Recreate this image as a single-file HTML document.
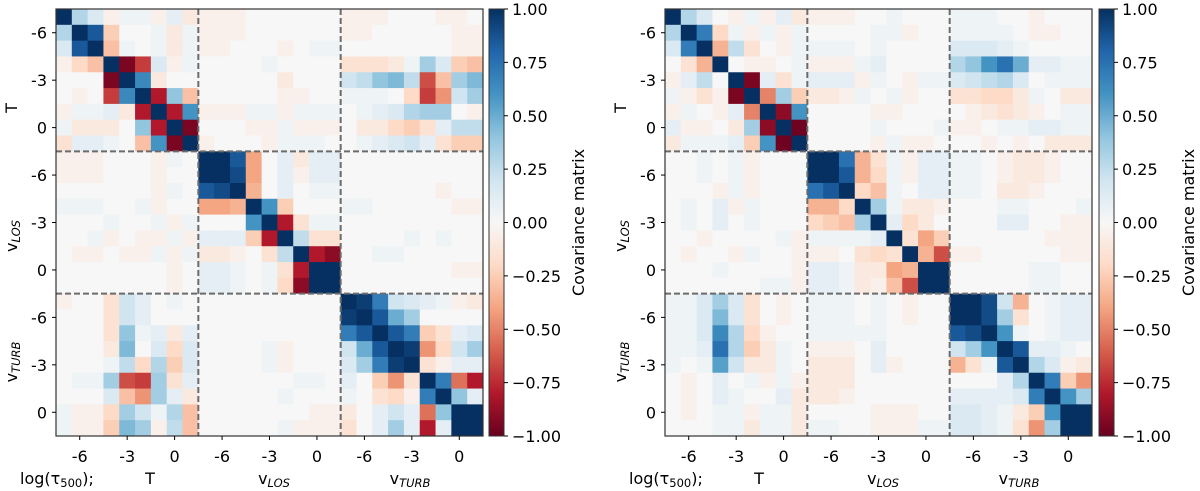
<!DOCTYPE html>
<html><head><meta charset="utf-8">
<style>
html,body{margin:0;padding:0;background:#fff;}
svg{display:block;font-family:"DejaVu Sans","Liberation Sans",sans-serif;}
</style></head>
<body>
<svg id="fig" width="1200" height="491" viewBox="0 0 1200 491" xmlns="http://www.w3.org/2000/svg"></svg>
<script>
// ---- data ----
const tickValues = [-6, -3, 0];
const tickCells = [1, 4, 7];
const blockNames = ["T", "LOS", "TURB"];
const cbarTicks = [1, 0.75, 0.5, 0.25, 0, -0.25, -0.5, -0.75, -1];
const cbarLabels = ["1.00","0.75","0.50","0.25","0.00","\u22120.25","\u22120.50","\u22120.75","\u22121.00"];

const leftMatrix = [
[1,.3,.15,-.05,.05,.05,-.05,.1,-.1, -.05,-.05,-.05,0,0,0,0,0,0, -.05,-.05,-.05,0,0,0,-.05,-.05,0],
[.3,1,.85,-.25,0,0,.05,-.1,.05, -.05,-.05,-.05,0,0,0,0,0,0, -.05,-.05,0,0,0,0,0,-.05,-.05],
[.15,.85,1,-.3,.05,0,.05,-.1,.05, -.05,-.05,0,0,0,-.05,0,.05,.05, 0,0,0,0,0,0,0,-.05,-.05],
[-.05,-.2,-.3,1,-.95,-.7,.15,-.05,.05, 0,0,0,0,.05,0,0,0,0, -.15,-.15,-.15,-.1,.05,.35,.15,-.25,-.3],
[0,0,0,-.95,1,.65,-.1,0,0, 0,0,0,0,0,-.1,0,0,0, .2,.25,.4,.45,.25,-.65,-.3,.35,.45],
[0,-.05,0,-.7,.65,1,-.8,.4,-.3, 0,0,0,0,0,-.05,-.05,0,0, .05,.05,.05,0,-.2,-.7,-.45,.2,.35],
[-.05,.05,.05,.1,-.1,-.8,1,-.8,.6, -.05,-.05,-.05,.05,.05,-.05,.05,.05,.05, 0,.05,.1,.15,.3,.35,.35,0,-.05],
[.05,-.1,-.1,-.1,0,.4,-.8,1,-.95, 0,0,0,-.05,-.05,.05,-.05,-.05,-.05, 0,-.1,-.1,-.2,-.25,-.15,.1,.25,.25],
[-.15,.1,.1,.05,0,-.3,.6,-.95,1, -.05,0,0,0,-.05,.05,.05,.05,0, 0,.05,.1,.15,.2,.1,-.15,-.25,-.25],
[-.05,-.05,-.05,0,0,0,-.05,.05,0, 1,1,.85,-.4,0,.1,-.1,.1,.1, 0,0,0,0,0,0,0,0,0],
[-.05,-.05,-.05,0,0,0,-.05,0,0, 1,1,.9,-.4,0,.1,-.05,.1,.1, 0,0,0,0,0,0,0,0,0],
[0,0,0,0,0,0,-.05,.05,0, .85,.9,1,-.35,0,.1,0,.05,.05, 0,0,0,0,0,0,-.05,0,0],
[.05,.05,.05,0,0,.05,-.05,0,0, -.4,-.4,-.35,1,.6,-.25,0,0,0, .05,.05,0,0,0,0,0,-.05,-.05],
[0,0,0,.05,0,0,.05,-.05,.05, 0,0,0,.6,1,-.8,-.15,.05,.05, 0,0,0,0,0,0,0,0,0],
[0,0,.05,-.05,0,-.05,-.05,.05,-.05, .1,.1,.1,-.25,-.8,1,.25,-.15,-.15, 0,0,0,0,.05,0,.05,0,0],
[0,-.05,-.05,0,-.05,-.05,.05,-.05,.05, -.1,-.1,-.05,0,-.15,.25,1,-.8,-.9, 0,0,.05,.05,0,0,0,0,0],
[0,0,0,0,0,0,0,-.05,0, .1,.1,.05,0,.05,-.15,-.8,1,1, 0,0,0,0,0,0,0,-.05,-.05],
[0,0,0,0,0,0,0,-.05,0, .1,.1,.05,0,.05,-.2,-.9,1,1, 0,0,0,0,0,0,0,0,0],
[-.05,0,0,-.15,.2,.1,0,.05,0, 0,0,0,0,0,0,0,0,0, 1,.95,.7,.2,.15,.1,.05,-.05,-.1],
[0,0,0,-.15,.2,.1,0,0,0, 0,0,0,0,0,0,0,0,0, .95,1,.85,.5,.35,0,0,0,0],
[0,0,0,-.15,.4,.05,.1,-.1,.1, 0,0,0,0,0,0,0,0,0, .7,.85,1,.85,.7,-.25,-.15,.1,.15],
[0,0,0,-.1,.45,0,.15,-.2,.15, 0,0,0,0,.05,-.05,0,0,0, .2,.5,.85,1,.95,-.45,-.2,.2,.35],
[0,0,0,.05,.25,-.2,.3,-.25,.15, 0,0,0,0,.05,-.05,0,0,0, .15,.35,.7,.95,1,-.15,-.05,.1,.1],
[0,.05,.05,.35,-.65,-.7,.35,-.15,.1, 0,0,0,0,0,0,.05,.05,0, .1,0,-.25,-.45,-.15,1,.7,-.55,-.8],
[0,0,0,.15,-.3,-.45,.35,.1,-.1, 0,0,0,0,0,.05,0,0,0, .05,0,-.15,-.2,-.05,.7,1,.4,.1],
[.05,-.05,-.05,-.2,.35,.2,.05,.3,-.3, 0,0,0,0,0,0,0,-.05,-.05, -.1,0,.1,.2,.1,-.55,.4,1,1],
[.05,-.05,-.05,-.25,.45,.35,-.05,.25,-.3, 0,0,0,0,0,.05,-.05,-.05,-.05, -.15,0,.1,.35,.1,-.8,.1,1,1]
];

const rightMatrix = [
[1,.3,.15,0,-.05,.05,-.05,.1,-.1, -.05,-.05,-.05,0,0,.05,0,0,0, .05,.05,.05,0,0,-.05,0,0,0],
[.3,1,.7,-.2,.05,-.05,.05,-.05,.05, 0,0,0,0,.05,.05,-.05,0,0, .05,.05,.05,.05,0,-.05,-.05,0,0],
[.15,.7,1,-.35,.25,-.15,0,-.05,.05, .05,.05,.05,0,.05,0,0,0,0, .15,.15,.15,.1,.05,0,0,0,0],
[0,-.15,-.35,1,0,-.05,-.05,0,.05, -.05,-.05,-.05,.05,.1,0,0,0,0, .3,.4,.6,.75,.5,.1,.1,.05,.05],
[-.05,.1,.25,0,1,-.95,.1,-.15,.05, .1,.1,.1,-.05,.05,0,-.05,.05,.05, .15,.2,.25,.3,.15,0,.05,.05,.05],
[.05,-.05,-.15,-.05,-.95,1,-.5,.35,-.25, -.1,-.1,-.05,.05,0,.05,-.05,0,0, -.15,-.15,-.2,-.2,-.1,.05,0,-.1,-.1],
[-.05,.05,0,-.05,.1,-.5,1,-.9,.6, 0,0,0,0,-.05,-.05,0,0,0, 0,-.05,-.1,-.15,-.1,-.05,0,.05,.05],
[.1,-.05,-.05,0,-.1,.35,-.9,1,-.98, 0,0,0,0,.05,0,0,0,.05, -.05,-.05,0,.05,.05,.1,.1,.05,.05],
[-.1,.05,.05,.05,.1,-.25,.6,-.98,1, 0,0,0,0,-.05,.05,-.05,-.05,0, 0,0,-.05,0,-.05,0,-.1,-.1,-.1],
[0,0,.05,0,.05,-.05,0,0,0, 1,1,.75,-.35,-.15,.05,-.05,.1,.1, .05,.05,0,-.05,-.1,-.1,-.05,0,0],
[0,0,.05,0,.05,-.05,0,0,0, 1,1,.85,-.35,-.2,.05,-.05,.1,.1, .05,.05,0,-.05,-.1,-.1,-.05,0,0],
[0,0,0,-.05,.05,-.05,0,0,0, .75,.85,1,-.2,-.3,.05,0,.1,.1, .05,.05,0,-.1,-.1,-.05,0,0,0],
[0,.05,0,.1,-.05,.05,0,0,0, -.35,-.35,-.2,1,.35,.05,-.1,-.1,-.05, 0,0,0,.05,.05,0,0,0,.05],
[0,.05,0,.1,0,.05,0,0,0, -.2,-.25,-.3,.35,1,.1,-.2,-.1,0, 0,0,0,.1,.1,0,0,-.05,-.05],
[0,0,-.05,0,0,0,0,.05,-.05, .05,.05,.05,.05,.1,1,-.15,-.4,-.25, 0,0,0,0,0,0,-.05,-.05,-.05],
[0,-.05,0,0,-.05,.05,0,0,-.05, -.05,-.05,0,-.15,-.2,-.15,1,-.35,-.65, -.05,-.05,0,0,0,0,0,-.05,-.05],
[0,0,0,.05,0,0,0,0,-.05, .1,.1,.05,-.1,-.1,-.4,-.35,1,1, 0,0,0,0,0,.05,.05,0,0],
[0,0,0,0,0,0,.05,.05,-.05, .1,.1,.05,-.1,-.05,-.3,-.65,1,1, 0,0,0,0,0,.05,.05,0,0],
[.05,.05,.15,.35,.15,-.15,0,-.05,0, .05,.05,.05,0,.05,0,-.05,0,0, 1,1,.9,.2,-.35,0,.05,.1,.1],
[.05,.05,.15,.45,.15,-.15,0,-.05,0, .05,.05,.05,0,.05,0,-.05,0,0, 1,1,.9,.35,-.15,0,.05,.1,.1],
[.05,.05,.15,.65,.3,-.2,-.05,0,0, .05,.05,.05,.05,.05,0,0,0,0, .85,.9,1,.6,.05,0,.05,.1,.1],
[.05,.05,.1,.75,.3,-.25,-.1,.05,0, -.05,-.05,-.05,0,.1,0,0,0,0, .2,.35,.6,1,.85,.1,.1,.05,0],
[.05,0,.05,.55,.2,-.1,-.1,.05,0, -.1,-.1,-.1,0,.1,-.05,0,0,0, -.35,-.15,.05,.85,1,.3,.15,-.05,-.1],
[0,-.05,0,.1,0,.05,-.05,.05,-.05, -.1,-.1,-.1,0,0,0,0,0,0, 0,0,0,.1,.3,1,.7,-.25,-.45],
[0,-.05,0,.1,.05,0,0,.1,-.1, -.1,-.1,-.05,0,0,0,0,0,0, .1,.1,.1,.1,.15,.7,1,.6,.35],
[0,-.05,0,.05,.05,-.05,.05,.05,-.1, 0,0,0,0,-.05,-.05,-.05,0,0, .15,.15,.1,.05,-.1,-.25,.6,1,1],
[0,0,0,.05,.05,-.1,.05,.05,-.1, .05,.05,0,0,-.05,-.05,-.05,.05,.05, .15,.15,.1,.05,-.15,-.45,.35,1,1]
];

// ---- rendering ----
const NS = "http://www.w3.org/2000/svg";
const svg = document.getElementById("fig");
const FS = 16;
const RDBU = ["#67001f","#b2182b","#d6604d","#f4a582","#fddbc7","#f7f7f7","#d1e5f0","#92c5de","#4393c3","#2166ac","#053061"];
function hex(h){return [parseInt(h.substr(1,2),16),parseInt(h.substr(3,2),16),parseInt(h.substr(5,2),16)];}
function color(v){
  v = Math.max(-1, Math.min(1, v));
  const t = (v + 1) / 2 * 10;
  const i = Math.min(9, Math.floor(t)), f = t - i;
  const a = hex(RDBU[i]), b = hex(RDBU[i+1]);
  return "rgb(" + a.map((c,k)=>Math.round(c + (b[k]-c)*f)).join(",") + ")";
}
function el(tag, attrs, parent){
  const e = document.createElementNS(NS, tag);
  for (const k in attrs) e.setAttribute(k, attrs[k]);
  (parent || svg).appendChild(e);
  return e;
}
function txt(str, attrs, parent){ const t = el("text", attrs, parent); t.textContent = str; return t; }
function groupLabel(parent, base, x, y, rotate, anchor){
  const t = el("text", {x:x, y:y, "font-size":FS, fill:"#000", "text-anchor":anchor || "middle",
    transform: rotate ? "rotate(-90 " + x + " " + y + ")" : ""}, parent);
  if (base === "T") { t.textContent = "T"; return t; }
  const s1 = el("tspan", {}, t); s1.textContent = "v";
  const s2 = el("tspan", {"font-size":11.5, "font-style":"italic", dy:3}, t); s2.textContent = base;
  return t;
}

const defs = el("defs", {});
const grad = el("linearGradient", {id:"rdbu", x1:0, y1:1, x2:0, y2:0}, defs);
RDBU.forEach((c,i)=>el("stop", {offset:(i/10), "stop-color":c}, grad));

function panel(matrix, x0, y0, size, cbX, labelX, name){
  const g = el("g", {});
  
  
  const n = matrix.length;
  const cell = size / n;
  const xs = i => x0 + i * cell;
  const ys = j => y0 + j * cell;
  const cells = el("g", {}, g);
  
  
  matrix.forEach((row, r) => row.forEach((v, c) => {
    const rc = el("rect", {x:xs(c).toFixed(2), y:ys(r).toFixed(2), width:(cell+0.4).toFixed(2), height:(cell+0.4).toFixed(2), fill:color(v)}, cells);
    
    
  }));
  [9, 18].forEach(b => {
    const lv = el("line", {x1:xs(b), y1:y0, x2:xs(b), y2:y0+size, stroke:"#6b6b6b", "stroke-width":2, "stroke-dasharray":"6,3"}, g);
    
    
    const lh = el("line", {x1:x0, y1:ys(b), x2:x0+size, y2:ys(b), stroke:"#6b6b6b", "stroke-width":2, "stroke-dasharray":"6,3"}, g);
    
    
  });
  const frame = el("rect", {x:x0, y:y0, width:size, height:size, fill:"none", stroke:"#333", "stroke-width":1.2}, g);
  
  
  for (let b = 0; b < 3; b++) {
    tickCells.forEach((tc, k) => {
      const idx = b*9 + tc;
      const cx = xs(idx) + cell/2, cy = ys(idx) + cell/2;
      el("line", {x1:cx, y1:y0+size, x2:cx, y2:y0+size+4, stroke:"#000", "stroke-width":1}, g);
      el("line", {x1:x0-4, y1:cy, x2:x0, y2:cy, stroke:"#000", "stroke-width":1}, g);
      const tx = txt(String(tickValues[k]), {x:cx, y:y0+size+26, "font-size":FS, "text-anchor":"middle"}, g);
      
      
      const ty = txt(String(tickValues[k]), {x:x0-9, y:cy+6, "font-size":FS, "text-anchor":"end"}, g);
      
      
    });
  }
  const yl = [108, 236, 362];
  blockNames.forEach((bn, i) => {
    const t = groupLabel(g, bn, labelX, yl[i], true);
    
    
  });
  const lg = el("text", {x:x0-36, y:484, "font-size":FS}, g);
  
  
  const a1 = el("tspan", {}, lg); a1.textContent = "log(\u03c4";
  const a2 = el("tspan", {"font-size":11.5, dy:3}, lg); a2.textContent = "500";
  const a3 = el("tspan", {dy:-3}, lg); a3.textContent = ");";
  const xlx = [x0+94, x0+218, x0+354];
  blockNames.forEach((bn, i) => {
    const t = groupLabel(g, bn, xlx[i], 484, false);
    
    
  });
  const cb = el("rect", {x:cbX, y:y0, width:15, height:size, fill:"url(#rdbu)", stroke:"#333", "stroke-width":1}, g);
  
  
  cbarTicks.forEach((v, k) => {
    const cy = y0 + (1 - v) / 2 * size;
    el("line", {x1:cbX+15, y1:cy, x2:cbX+19, y2:cy, stroke:"#000", "stroke-width":1}, g);
    const t = txt(cbarLabels[k], {x:cbX+23, y:cy+6, "font-size":FS}, g);
    
    
  });
  const cl = txt("Covariance matrix", {x:cbX+95, y:y0+size/2, "font-size":FS, "text-anchor":"middle",
    transform:"rotate(-90 " + (cbX+95) + " " + (y0+size/2) + ")"}, g);
  
  
}
panel(leftMatrix, 56, 9, 427, 489, 17, "left-covariance-panel");
panel(rightMatrix, 665, 9, 427, 1099, 626, "right-covariance-panel");
</script>
</body></html>
